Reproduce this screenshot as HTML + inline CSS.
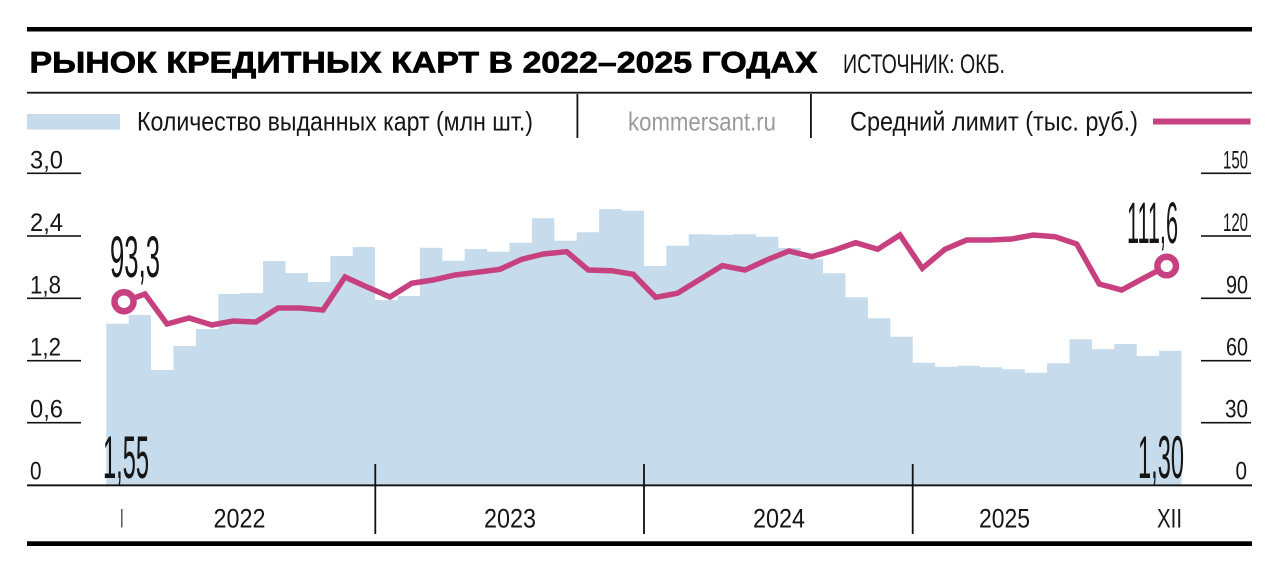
<!DOCTYPE html>
<html>
<head>
<meta charset="utf-8">
<style>
  html, body { margin: 0; padding: 0; background: #ffffff; }
  svg { display: block; }
  text { font-family: "Liberation Sans", "DejaVu Sans", sans-serif; fill: #151515; }
</style>
</head>
<body>
<svg width="1280" height="573" viewBox="0 0 1280 573" xmlns="http://www.w3.org/2000/svg">
  <rect x="0" y="0" width="1280" height="573" fill="#ffffff"/>

  <!-- top thick rule -->
  <rect x="27" y="27" width="1225" height="4.5" fill="#000"/>

  <!-- title -->
  <text x="29.5" y="72.5" font-size="30" font-weight="bold" textLength="788" lengthAdjust="spacingAndGlyphs" stroke="#000" stroke-width="0.7" style="fill:#000">РЫНОК КРЕДИТНЫХ КАРТ В 2022–2025 ГОДАХ</text>
  <text x="843" y="73" font-size="27" textLength="162" lengthAdjust="spacingAndGlyphs">ИСТОЧНИК: ОКБ.</text>

  <!-- thin rule -->
  <rect x="27" y="91.8" width="1225" height="1.8" fill="#111"/>

  <!-- legend -->
  <rect x="27" y="114" width="93" height="15.5" fill="#c6dbeb"/>
  <text x="137" y="130.5" font-size="27" textLength="396" lengthAdjust="spacingAndGlyphs">Количество выданных карт (млн шт.)</text>
  <rect x="576.5" y="94" width="1.8" height="44" fill="#111"/>
  <text x="628" y="130.5" font-size="26" textLength="148" lengthAdjust="spacingAndGlyphs" style="fill:#9a9a9a">kommersant.ru</text>
  <rect x="810" y="94" width="1.8" height="44" fill="#111"/>
  <text x="850" y="130.5" font-size="27" textLength="288" lengthAdjust="spacingAndGlyphs">Средний лимит (тыс. руб.)</text>
  <rect x="1153" y="118.5" width="97.5" height="6" fill="#c7407f"/>

  <!-- bars -->
  <path fill="#c6dbeb" d="M106.3 485.3 V323.8 H128.7 V315 H151.1 V370 H173.5 V346 H195.9 V329 H218.3 V294 H240.7 V293 H263.1 V261 H285.5 V273 H307.9 V282 H330.3 V256 H352.7 V247 H375.1 V300 H397.5 V296 H419.9 V247.7 H442.3 V260.7 H464.7 V249 H487.1 V251.7 H509.5 V242.7 H531.9 V218.3 H554.3 V240.7 H576.7 V232.3 H599.1 V209 H621.5 V210.7 H643.9 V266 H666.3 V245.7 H688.7 V234.3 H711.1 V235 H733.5 V234.3 H755.9 V236.7 H778.3 V248 H800.7 V259 H823.1 V273.3 H845.5 V297.3 H867.9 V318.3 H890.3 V336.7 H912.7 V362.7 H935.1 V366.7 H957.5 V365.7 H979.9 V367.3 H1002.3 V369.3 H1024.7 V372.7 H1047.1 V363.3 H1069.5 V339.3 H1091.9 V349.3 H1114.3 V344 H1136.7 V356 H1159.1 V350.7 H1181.5 V485.3 Z"/>

  <!-- left axis ticks & labels -->
  <g fill="#111">
    <rect x="27" y="172.5" width="54" height="1.6"/>
    <rect x="27" y="235.2" width="54" height="1.6"/>
    <rect x="27" y="297.5" width="54" height="1.6"/>
    <rect x="27" y="359.9" width="54" height="1.6"/>
    <rect x="27" y="421.9" width="54" height="1.6"/>
  </g>
  <g font-size="25">
    <text x="30" y="168.3" textLength="33" lengthAdjust="spacingAndGlyphs">3,0</text>
    <text x="30" y="231" textLength="33" lengthAdjust="spacingAndGlyphs">2,4</text>
    <text x="30" y="293.3" textLength="31" lengthAdjust="spacingAndGlyphs">1,8</text>
    <text x="30" y="355.7" textLength="31" lengthAdjust="spacingAndGlyphs">1,2</text>
    <text x="30" y="417.7" textLength="33" lengthAdjust="spacingAndGlyphs">0,6</text>
    <text x="30" y="479.5" textLength="11.5" lengthAdjust="spacingAndGlyphs">0</text>
  </g>

  <!-- right axis ticks & labels -->
  <g fill="#111">
    <rect x="1201" y="172.5" width="50" height="1.6"/>
    <rect x="1201" y="235.2" width="50" height="1.6"/>
    <rect x="1201" y="297.5" width="50" height="1.6"/>
    <rect x="1201" y="359.9" width="50" height="1.6"/>
    <rect x="1201" y="421.9" width="50" height="1.6"/>
  </g>
  <g font-size="25">
    <text x="1223" y="168.3" textLength="25" lengthAdjust="spacingAndGlyphs">150</text>
    <text x="1223" y="231" textLength="25" lengthAdjust="spacingAndGlyphs">120</text>
    <text x="1226" y="293.3" textLength="22" lengthAdjust="spacingAndGlyphs">90</text>
    <text x="1226" y="355.7" textLength="22" lengthAdjust="spacingAndGlyphs">60</text>
    <text x="1225" y="417.7" textLength="23" lengthAdjust="spacingAndGlyphs">30</text>
    <text x="1235.5" y="479.5" textLength="11.5" lengthAdjust="spacingAndGlyphs">0</text>
  </g>

  <!-- baseline -->
  <rect x="27" y="484.4" width="1225" height="1.9" fill="#111"/>

  <!-- year dividers -->
  <g fill="#111">
    <rect x="374.4" y="464" width="1.8" height="70"/>
    <rect x="643.1" y="464" width="1.8" height="70"/>
    <rect x="911.8" y="464" width="1.8" height="70"/>
  </g>

  <!-- x labels -->
  <g font-size="27">
    <text x="120.3" y="527.5" textLength="3.2" lengthAdjust="spacingAndGlyphs">I</text>
    <text x="213.5" y="527.5" textLength="52" lengthAdjust="spacingAndGlyphs">2022</text>
    <text x="484" y="527.5" textLength="52" lengthAdjust="spacingAndGlyphs">2023</text>
    <text x="753" y="527.5" textLength="52" lengthAdjust="spacingAndGlyphs">2024</text>
    <text x="979" y="527.5" textLength="51" lengthAdjust="spacingAndGlyphs">2025</text>
    <text x="1157" y="527.5" textLength="25" lengthAdjust="spacingAndGlyphs">XII</text>
  </g>

  <!-- bottom thick rule -->
  <rect x="27" y="541.3" width="1225" height="4.7" fill="#000"/>

  <!-- line series -->
  <polyline fill="none" stroke="#c7407f" stroke-width="5.5" stroke-linejoin="miter" stroke-miterlimit="4" points="
    124,301.7 145,294 167,324 189,318 212,325 233,321 256,322 278,308 300,308 323,310
    345,277 367,287 390,297 411.7,283.3 433,280 455,275 476.7,272.3 500,269.3 521.7,259.3 543.3,254
    566.7,251.7 588.3,270 611.7,270.7 633.3,274.3 655.7,297.3 677.3,293.3 700,279.3 722.3,265.7 745,270 766.7,260
    789,251 811.7,256.7 832.7,250.7 855.7,242.7 877.7,249.3 900,235 922.3,268.3 945,249.3 966.7,240 990,240
    1011.7,239 1033.3,235 1055,236.7 1076.7,244 1099.3,284 1121.7,290 1143.3,278.3 1166.7,266"/>
  <circle cx="124" cy="301.7" r="9.5" fill="#ffffff" stroke="#c7407f" stroke-width="6.5"/>
  <circle cx="1166.7" cy="266" r="9.3" fill="#ffffff" stroke="#c7407f" stroke-width="6.5"/>

  <!-- big value labels -->
  <text x="110" y="277" font-size="58" textLength="50" lengthAdjust="spacingAndGlyphs">93,3</text>
  <text x="1127" y="243" font-size="58" textLength="51" lengthAdjust="spacingAndGlyphs">111,6</text>
  <text x="103" y="478" font-size="60" textLength="46" lengthAdjust="spacingAndGlyphs">1,55</text>
  <text x="1138" y="478" font-size="60" textLength="46" lengthAdjust="spacingAndGlyphs">1,30</text>
</svg>
</body>
</html>
